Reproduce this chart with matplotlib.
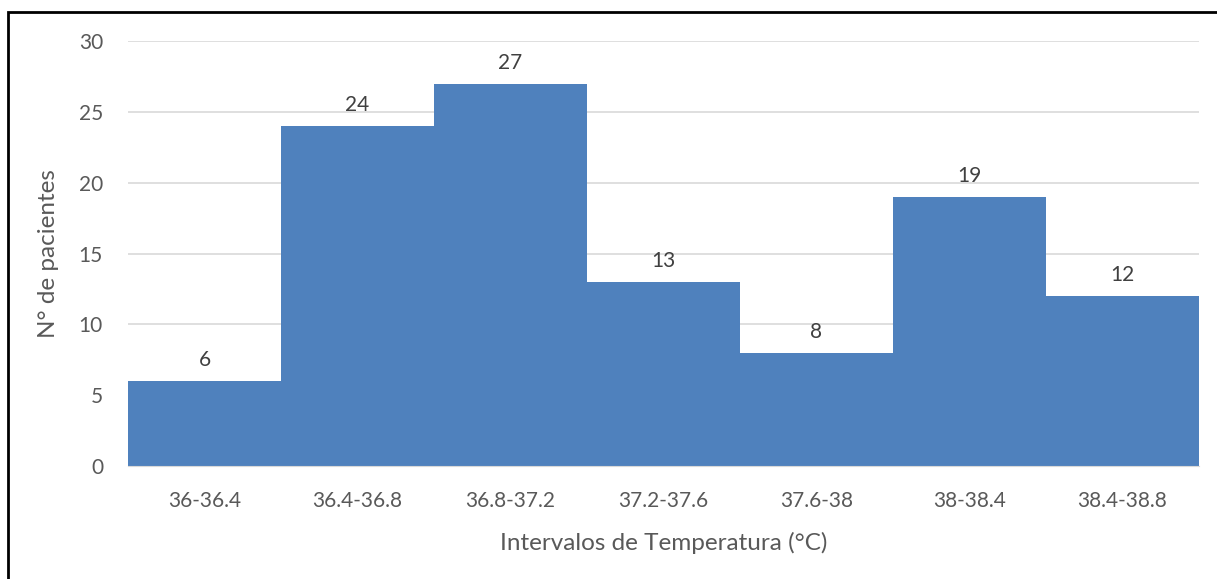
import matplotlib
matplotlib.use("Agg")
import matplotlib.pyplot as plt
from matplotlib.patches import Rectangle

intervals = ["36-36.4", "36.4-36.8", "36.8-37.2", "37.2-37.6", "37.6-38", "38-38.4", "38.4-38.8"]
pacientes = [6, 24, 27, 13, 8, 19, 12]
yticks = [0, 5, 10, 15, 20, 25, 30]

plt.rcParams['font.family'] = ['Lato', 'DejaVu Sans']
txt = '#595959'

fig = plt.figure(figsize=(12.17, 5.79), dpi=100, facecolor='white')
ax = fig.add_axes([128 / 1217, 1 - 466 / 579, (1199 - 128) / 1217, (466 - 41) / 579])

x = range(len(intervals))
bars = ax.bar(x, pacientes, width=1.0, color='#4F81BD', zorder=2)
for i, v in zip(x, pacientes):
    ax.text(i, v + 0.75, str(v), ha='center', va='bottom', fontsize=15, color='#404040')

ax.set_xlim(-0.5, len(intervals) - 0.5)
ax.set_ylim(0, 30)
ax.set_yticks(yticks)
ax.set_xticks(list(x))
ax.set_xticklabels(intervals)
ax.tick_params(axis='both', length=0, labelsize=15, colors=txt)
ax.tick_params(axis='y', pad=18)
ax.tick_params(axis='x', pad=18)
ax.grid(axis='y', color='#D9D9D9', linewidth=1.2, zorder=0)
for s in ['top', 'right', 'left']:
    ax.spines[s].set_visible(False)
ax.spines['bottom'].set_color('#D9D9D9')
ax.set_xlabel('Intervalos de Temperatura (°C)', fontsize=17.5, color=txt, labelpad=15)
ax.set_ylabel('N° de pacientes', fontsize=17.5, color=txt, labelpad=14)

# outer frame around the chart area
fig.patches.append(Rectangle((7.5 / 1217, -0.1), 1.2, 1 - 11.5 / 579 + 0.1,
                             transform=fig.transFigure, fill=False,
                             edgecolor='black', linewidth=2))

fig.savefig('out.png', dpi=100, facecolor='white')
